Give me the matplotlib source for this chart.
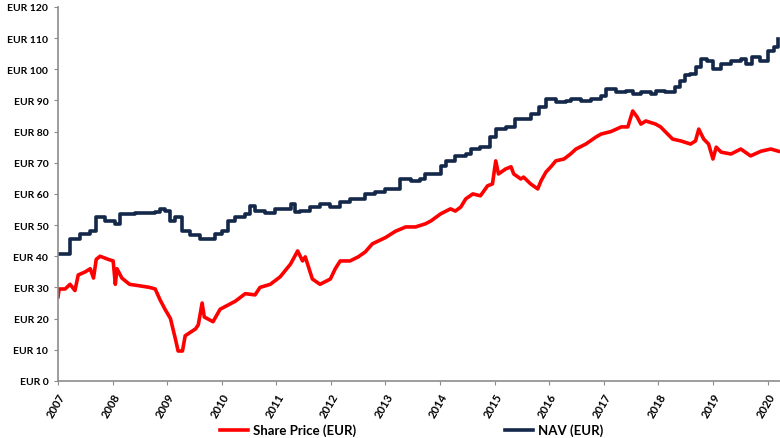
import matplotlib
matplotlib.use('Agg')
from matplotlib import pyplot as plt

# Share price (EUR)
price_years = [2007.00, 2007.02, 2007.13, 2007.22, 2007.31, 2007.37, 2007.50, 2007.59,
               2007.65, 2007.70, 2007.77, 2007.92, 2008.01, 2008.05, 2008.08, 2008.17,
               2008.31, 2008.50, 2008.68, 2008.78, 2008.87, 2008.96, 2009.06, 2009.15,
               2009.20, 2009.28, 2009.33, 2009.52, 2009.57, 2009.64, 2009.68, 2009.84,
               2009.97, 2010.25, 2010.43, 2010.61, 2010.70, 2010.89, 2011.07, 2011.26,
               2011.39, 2011.48, 2011.53, 2011.66, 2011.80, 2011.99, 2012.08, 2012.17,
               2012.35, 2012.50, 2012.63, 2012.76, 2013.00, 2013.18, 2013.37, 2013.55,
               2013.73, 2013.83, 2014.01, 2014.19, 2014.28, 2014.38, 2014.47, 2014.60,
               2014.74, 2014.87, 2014.96, 2015.02, 2015.07, 2015.20, 2015.30, 2015.35,
               2015.48, 2015.53, 2015.66, 2015.79, 2015.85, 2015.94, 2016.03, 2016.12,
               2016.27, 2016.39, 2016.49, 2016.67, 2016.86, 2016.95, 2017.13, 2017.32,
               2017.44, 2017.53, 2017.61, 2017.68, 2017.77, 2017.95, 2018.04, 2018.17,
               2018.26, 2018.41, 2018.59, 2018.68, 2018.74, 2018.83, 2018.92, 2019.00,
               2019.06, 2019.15, 2019.33, 2019.51, 2019.69, 2019.88, 2020.06, 2020.20]
price_values = [27.0, 29.5, 29.5, 31.0, 29.0, 34.0, 35.0, 36.0,
                33.0, 39.0, 40.0, 39.0, 38.5, 31.0, 36.0, 33.0,
                31.0, 30.5, 30.0, 29.5, 26.0, 23.0, 20.0, 13.5,
                9.6, 9.6, 14.5, 16.7, 18.0, 25.0, 20.5, 19.0,
                23.0, 25.6, 28.0, 27.6, 30.0, 31.0, 33.4, 37.5,
                41.7, 38.5, 39.8, 32.7, 31.0, 32.7, 36.0, 38.5,
                38.5, 39.8, 41.4, 44.0, 46.0, 48.0, 49.4, 49.4,
                50.4, 51.3, 53.6, 55.2, 54.5, 55.8, 58.4, 60.0,
                59.4, 62.6, 63.2, 70.6, 66.4, 68.0, 68.7, 66.4,
                64.8, 65.4, 63.2, 61.6, 64.2, 67.0, 68.7, 70.6,
                71.2, 72.8, 74.4, 76.0, 78.3, 79.2, 80.0, 81.5,
                81.5, 86.6, 84.7, 82.4, 83.4, 82.4, 81.5, 79.2,
                77.6, 77.0, 76.0, 77.0, 80.8, 77.6, 76.0, 71.2,
                75.0, 73.4, 72.8, 74.4, 72.2, 73.7, 74.4, 73.7]

# NAV (EUR), published in steps
nav_years = [2007.00, 2007.22, 2007.40, 2007.59, 2007.70, 2007.86, 2008.05, 2008.14,
             2008.41, 2008.78, 2008.87, 2008.96, 2009.06, 2009.15, 2009.28, 2009.42,
             2009.61, 2009.79, 2009.88, 2010.01, 2010.12, 2010.25, 2010.43, 2010.52,
             2010.61, 2010.80, 2010.98, 2011.17, 2011.26, 2011.35, 2011.44, 2011.62,
             2011.80, 2011.99, 2012.17, 2012.35, 2012.54, 2012.63, 2012.81, 2013.00,
             2013.18, 2013.27, 2013.46, 2013.64, 2013.73, 2014.01, 2014.10, 2014.28,
             2014.47, 2014.56, 2014.74, 2014.92, 2015.02, 2015.20, 2015.29, 2015.38,
             2015.66, 2015.81, 2015.94, 2016.12, 2016.31, 2016.40, 2016.58, 2016.76,
             2016.95, 2017.04, 2017.22, 2017.40, 2017.53, 2017.68, 2017.86, 2017.95,
             2018.13, 2018.31, 2018.40, 2018.49, 2018.58, 2018.69, 2018.78, 2018.89,
             2019.00, 2019.15, 2019.33, 2019.51, 2019.60, 2019.72, 2019.86, 2020.01,
             2020.12, 2020.20]
nav_values = [40.7, 45.5, 47.0, 48.0, 52.6, 51.3, 50.4, 53.6,
              54.0, 54.2, 55.2, 54.5, 51.3, 52.6, 48.0, 46.8,
              45.5, 45.5, 47.0, 48.0, 51.3, 52.6, 53.6, 56.0,
              54.5, 54.0, 55.2, 55.2, 56.8, 54.2, 54.5, 55.8,
              56.8, 55.8, 57.4, 58.4, 58.4, 60.0, 60.6, 61.6,
              61.6, 64.8, 64.2, 64.8, 66.4, 69.0, 70.6, 72.2,
              72.8, 74.4, 75.0, 78.3, 80.8, 81.5, 81.5, 84.0,
              85.7, 87.9, 90.5, 89.5, 89.8, 90.5, 89.8, 90.5,
              91.4, 93.7, 92.7, 93.0, 92.0, 92.7, 92.0, 93.0,
              92.7, 94.3, 96.2, 98.2, 98.5, 100.7, 103.3, 102.7,
              100.0, 101.7, 102.7, 103.3, 101.7, 104.0, 102.7, 105.9,
              107.0, 109.7]

year_ticks = list(range(2007, 2021))
eur_ticks = list(range(0, 121, 10))

plt.rcParams['font.family'] = ['Lato', 'DejaVu Sans']

fig = plt.figure(figsize=(7.8, 4.39), dpi=100)
ax = fig.add_axes([0.0744, 0.13, 0.925, 0.852])

ax.plot(price_years, price_values, color='#FF0000', linewidth=2.6,
        label='Share Price (EUR)', solid_joinstyle='round')
ax.plot(nav_years, nav_values, color='#14284A', linewidth=2.6,
        drawstyle='steps-post', label='NAV (EUR)')

ax.set_xlim(2007, 2020.22)
ax.set_ylim(0, 120)
ax.set_xticks(year_ticks)
ax.set_xticklabels([str(y) for y in year_ticks], rotation=60, ha='right',
                   rotation_mode='anchor', fontweight='bold', fontsize=8)
ax.set_yticks(eur_ticks)
ax.set_yticklabels([f'EUR {v}' for v in eur_ticks], fontweight='bold', fontsize=7.5)

for side in ['top', 'right']:
    ax.spines[side].set_visible(False)
for side in ['left', 'bottom']:
    ax.spines[side].set_color('#8c8c8c')
    ax.spines[side].set_linewidth(1.2)
ax.tick_params(axis='both', colors='#8c8c8c', length=3, labelcolor='black', pad=4)

fig.legend(loc='center', bbox_to_anchor=(0.528, 0.018), ncol=2,
           frameon=False, handlelength=2.1, handletextpad=0.4,
           columnspacing=11.3, prop={'weight': 'bold', 'size': 9.5})

fig.savefig('out.png', dpi=100)
